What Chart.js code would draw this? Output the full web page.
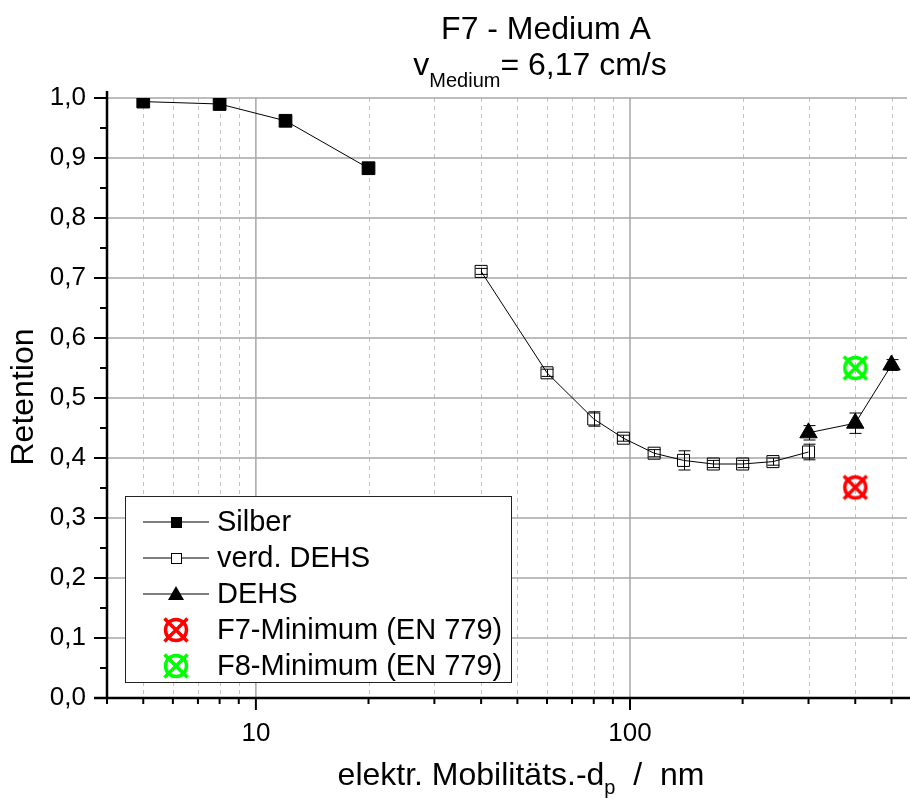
<!DOCTYPE html>
<html>
<head>
<meta charset="utf-8">
<script src="https://cdn.jsdelivr.net/npm/chart.js@4/dist/chart.umd.min.js"></script>
<style>
  body { margin: 0; background: #fff; }
  canvas { display: block; }
</style>
</head>
<body>
<canvas id="retChart" width="923" height="801" style="width:923px;height:801px"></canvas>
<script>
const FONT = "'Liberation Sans', Arial, sans-serif";

// data
const silberX = [5, 8, 12, 20];
const silberY = [0.994, 0.990, 0.962, 0.883];

const verdX = [40, 60, 80, 96, 116, 139, 167, 200, 241, 300];
const verdY = [0.711, 0.542, 0.465, 0.433, 0.408, 0.396, 0.390, 0.390, 0.394, 0.410];
const verdErr = [0.005, 0.006, 0.012, 0.005, 0.006, 0.016, 0.006, 0.006, 0.006, 0.013];

const dehsX = [300, 400, 500];
const dehsY = [0.442, 0.458, 0.555];
const dehsErr = [0.012, 0.017, 0.009];

const f7X = [400];
const f7Y = [0.351];
const f8X = [400];
const f8Y = [0.550];

const xTickValues = [4, 5, 6, 7, 8, 9, 10, 20, 30, 40, 50, 60, 70, 80, 90, 100, 200, 300, 400, 500];
const xMajor = [10, 100];
const yMinorTicks = [0.05, 0.15, 0.25, 0.35, 0.45, 0.55, 0.65, 0.75, 0.85, 0.95];

const legendLabels = ["Silber", "verd. DEHS", "DEHS", "F7-Minimum (EN 779)", "F8-Minimum (EN 779)"];

function pts(xs, ys) {
    return xs.map((x, i) => ({ x: x, y: ys[i] }));
}

function ringCross(color) {
    const c = document.createElement("canvas");
    c.width = 30;
    c.height = 30;
    const g = c.getContext("2d");
    g.strokeStyle = color;
    g.lineWidth = 3.5;
    g.beginPath();
    g.arc(15, 15, 10.5, 0, Math.PI * 2);
    g.stroke();
    g.beginPath();
    g.moveTo(3.5, 3.5); g.lineTo(26.5, 26.5);
    g.moveTo(26.5, 3.5); g.lineTo(3.5, 26.5);
    g.stroke();
    return c;
}
const redMark = ringCross("#ff0000");
const greenMark = ringCross("#00ff00");

// grid lines behind the data
const gridPlugin = {
    id: "gridPlugin",
    beforeDraw(chart) {
        const c = chart.ctx;
        c.save();
        c.fillStyle = "#fff";
        c.fillRect(0, 0, chart.width, chart.height);
        c.restore();
    },
    beforeDatasetsDraw(chart) {
        const c = chart.ctx;
        const a = chart.chartArea;
        const xs = chart.scales.x, ys = chart.scales.y;
        c.save();
        // minor dashed verticals
        c.strokeStyle = "#c4c4c4";
        c.lineWidth = 1;
        c.setLineDash([4, 4]);
        xTickValues.forEach(v => {
            if (xMajor.includes(v) || v === 4) return;
            const px = Math.round(xs.getPixelForValue(v)) + 0.5;
            c.beginPath();
            c.moveTo(px, a.top);
            c.lineTo(px, a.bottom);
            c.stroke();
        });
        c.setLineDash([]);
        c.strokeStyle = "#a6a6a6";
        c.lineWidth = 1.5;
        xMajor.forEach(v => {
            const px = xs.getPixelForValue(v);
            c.beginPath();
            c.moveTo(px, a.top);
            c.lineTo(px, a.bottom);
            c.stroke();
        });
        for (let i = 1; i <= 10; i++) {
            const py = ys.getPixelForValue(i / 10);
            c.beginPath();
            c.moveTo(a.left, py);
            c.lineTo(a.right, py);
            c.stroke();
        }
        c.restore();
    }
};

// error bars, axes, ticks, titles, legend on top
const decoPlugin = {
    id: "decoPlugin",
    afterDatasetsDraw(chart) {
        const c = chart.ctx;
        const xs = chart.scales.x, ys = chart.scales.y;
        c.save();
        c.strokeStyle = "#000";
        c.lineWidth = 1;
        chart.data.datasets.forEach(ds => {
            if (!ds.errors) return;
            ds.data.forEach((p, i) => {
                const e = ds.errors[i];
                if (!e) return;
                const px = Math.round(xs.getPixelForValue(p.x)) + 0.5;
                const y1 = ys.getPixelForValue(p.y + e);
                const y2 = ys.getPixelForValue(p.y - e);
                c.beginPath();
                c.moveTo(px, y1); c.lineTo(px, y2);
                c.moveTo(px - 6, y1); c.lineTo(px + 6, y1);
                c.moveTo(px - 6, y2); c.lineTo(px + 6, y2);
                c.stroke();
            });
        });
        c.restore();
    },
    afterDraw(chart) {
        const c = chart.ctx;
        const a = chart.chartArea;
        const xs = chart.scales.x, ys = chart.scales.y;
        c.save();

        // axis lines
        c.strokeStyle = "#000";
        c.lineWidth = 2.5;
        c.beginPath();
        c.moveTo(a.left, a.top - 7);
        c.lineTo(a.left, a.bottom + 1);
        c.moveTo(a.left - 13, a.bottom);
        c.lineTo(a.right + 3, a.bottom);
        c.stroke();

        // y ticks
        c.lineWidth = 2;
        for (let i = 0; i <= 10; i++) {
            const py = ys.getPixelForValue(i / 10);
            c.beginPath();
            c.moveTo(a.left - 13, py);
            c.lineTo(a.left, py);
            c.stroke();
        }
        yMinorTicks.forEach(v => {
            const py = ys.getPixelForValue(v);
            c.beginPath();
            c.moveTo(a.left - 7, py);
            c.lineTo(a.left, py);
            c.stroke();
        });
        // x ticks
        xTickValues.forEach(v => {
            const px = xs.getPixelForValue(v);
            const len = xMajor.includes(v) ? 12 : 6;
            c.beginPath();
            c.moveTo(px, a.bottom);
            c.lineTo(px, a.bottom + len);
            c.stroke();
        });

        // titles
        c.fillStyle = "#000";
        c.textBaseline = "alphabetic";
        c.textAlign = "center";
        c.font = "32px " + FONT;
        c.fillText("F7 - Medium A", 546, 39);

        // second title line with subscript
        const big = "32px " + FONT, small = "20px " + FONT;
        c.font = big;
        const wv = c.measureText("v").width;
        const wr = c.measureText("= 6,17 cm/s").width;
        c.font = small;
        const ws = c.measureText("Medium").width;
        let x0 = 540 - (wv + ws + wr) / 2;
        c.textAlign = "left";
        c.font = big;
        c.fillText("v", x0, 75);
        c.font = small;
        c.fillText("Medium", x0 + wv, 87);
        c.font = big;
        c.fillText("= 6,17 cm/s", x0 + wv + ws, 75);

        // x axis title
        const xa = "elektr. Mobilitäts.-d", xb = "  /  nm";
        c.font = "32px " + FONT;
        const wa = c.measureText(xa).width;
        const wb = c.measureText(xb).width;
        c.font = "20px " + FONT;
        const wp = c.measureText("p").width;
        x0 = 521 - (wa + wp + wb) / 2;
        c.font = "32px " + FONT;
        c.fillText(xa, x0, 785);
        c.fillText(xb, x0 + wa + wp, 785);
        c.font = "20px " + FONT;
        c.fillText("p", x0 + wa, 794);

        // y axis title
        c.save();
        c.translate(33, 397);
        c.rotate(-Math.PI / 2);
        c.textAlign = "center";
        c.font = "32px " + FONT;
        c.fillText("Retention", 0, 0);
        c.restore();

        // legend box
        const lx = 125, ly = 496, lw = 386, lh = 186;
        c.fillStyle = "#fff";
        c.fillRect(lx, ly, lw, lh);
        c.strokeStyle = "#222";
        c.lineWidth = 1;
        c.strokeRect(lx + 0.5, ly + 0.5, lw, lh);
        c.font = "29px " + FONT;
        c.textAlign = "left";
        c.textBaseline = "middle";
        legendLabels.forEach((lab, i) => {
            const cy = 522 + i * 36;
            if (i < 3) {
                c.strokeStyle = "#555";
                c.lineWidth = 1.5;
                c.beginPath();
                c.moveTo(143, cy);
                c.lineTo(209, cy);
                c.stroke();
            }
            c.strokeStyle = "#000";
            c.lineWidth = 1;
            c.fillStyle = "#000";
            if (i === 0) {
                c.fillRect(171, cy - 5, 11, 11);
            } else if (i === 1) {
                c.fillStyle = "#fff";
                c.fillRect(171, cy - 5, 10, 10);
                c.strokeRect(171.5, cy - 4.5, 10, 10);
            } else if (i === 2) {
                c.beginPath();
                c.moveTo(176, cy - 8);
                c.lineTo(184, cy + 6);
                c.lineTo(168, cy + 6);
                c.closePath();
                c.fill();
            } else {
                c.drawImage(i === 3 ? redMark : greenMark, 176 - 15, cy - 15);
            }
            c.fillStyle = "#000";
            c.fillText(lab, 217, cy + 1);
        });
        c.restore();
    }
};

const ctx = document.getElementById("retChart");

new Chart(ctx, {
    type: "scatter",
    data: {
        datasets: [
            {
                label: legendLabels[0],
                data: pts(silberX, silberY),
                showLine: true,
                borderColor: "#000",
                borderWidth: 1,
                pointStyle: "rect",
                pointRadius: 9,
                pointBackgroundColor: "#000",
                pointBorderColor: "#000",
                pointBorderWidth: 1
            },
            {
                label: legendLabels[1],
                data: pts(verdX, verdY),
                errors: verdErr,
                showLine: true,
                borderColor: "#000",
                borderWidth: 1,
                pointStyle: "rect",
                pointRadius: 8.5,
                pointBackgroundColor: "rgba(0,0,0,0)",
                pointBorderColor: "#000",
                pointBorderWidth: 1
            },
            {
                label: legendLabels[2],
                data: pts(dehsX, dehsY),
                errors: dehsErr,
                showLine: true,
                borderColor: "#000",
                borderWidth: 1,
                pointStyle: "triangle",
                pointRadius: 10,
                pointBackgroundColor: "#000",
                pointBorderColor: "#000",
                pointBorderWidth: 1
            },
            {
                label: legendLabels[3],
                data: pts(f7X, f7Y),
                showLine: false,
                pointStyle: redMark,
                pointRadius: 15
            },
            {
                label: legendLabels[4],
                data: pts(f8X, f8Y),
                showLine: false,
                pointStyle: greenMark,
                pointRadius: 15
            }
        ]
    },
    options: {
        responsive: false,
        animation: false,
        layout: { padding: { top: 98, right: 11, left: 0, bottom: 0 } },
        plugins: {
            legend: { display: false },
            tooltip: { enabled: false },
            title: { display: false }
        },
        scales: {
            x: {
                type: "logarithmic",
                min: 4,
                max: 550,
                afterBuildTicks: scale => {
                    scale.ticks = xTickValues.map(v => ({ value: v }));
                },
                afterFit: scale => { scale.height = 103; },
                grid: { display: false, drawTicks: false },
                border: { display: false },
                ticks: {
                    autoSkip: false,
                    maxRotation: 0,
                    padding: 20,
                    color: "#000",
                    font: { family: FONT, size: 26 },
                    callback: v => (xMajor.includes(v) ? String(v) : "")
                }
            },
            y: {
                min: 0,
                max: 1,
                afterFit: scale => { scale.width = 107; },
                grid: { display: false, drawTicks: false },
                border: { display: false },
                ticks: {
                    stepSize: 0.1,
                    padding: 21,
                    color: "#000",
                    font: { family: FONT, size: 26 },
                    callback: v => v.toFixed(1).replace(".", ",")
                }
            }
        }
    },
    plugins: [gridPlugin, decoPlugin]
});
</script>
</body>
</html>
